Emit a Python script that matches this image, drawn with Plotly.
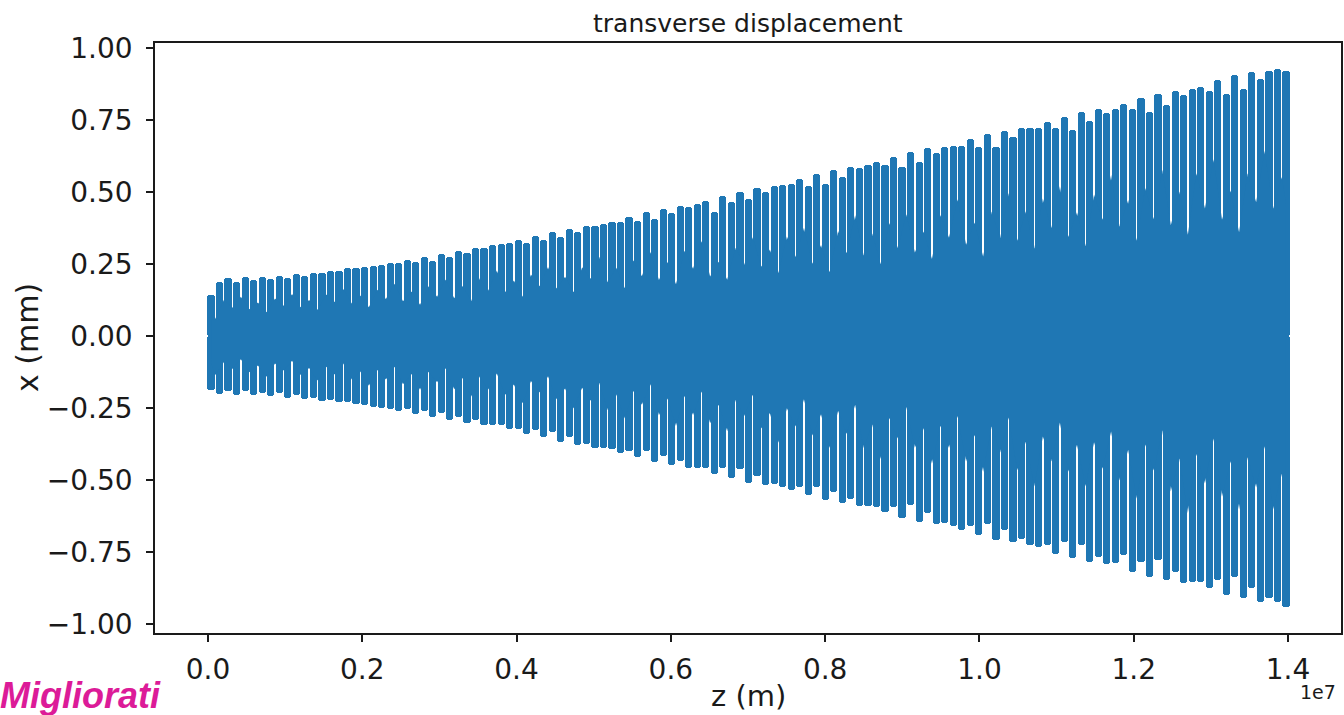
import numpy as np
import plotly.graph_objects as go

# ---- data ----
# upper spike tips x (mm), left to right
UPPER_TIPS = [
    0.142, 0.189, 0.200, 0.189, 0.204, 0.194, 0.206, 0.197, 0.209, 0.203,
    0.215, 0.208, 0.220, 0.218, 0.227, 0.227, 0.235, 0.235, 0.238, 0.244,
    0.247, 0.255, 0.252, 0.264, 0.258, 0.275, 0.262, 0.285, 0.273, 0.296,
    0.289, 0.304, 0.304, 0.316, 0.318, 0.322, 0.333, 0.324, 0.347, 0.333,
    0.362, 0.343, 0.372, 0.362, 0.382, 0.382, 0.389, 0.397, 0.395, 0.414,
    0.399, 0.429, 0.405, 0.441, 0.428, 0.451, 0.449, 0.458, 0.470, 0.430,
    0.487, 0.465, 0.501, 0.476, 0.513, 0.501, 0.522, 0.523, 0.528, 0.544,
    0.522, 0.5625, 0.527, 0.576, 0.553, 0.586, 0.582, 0.594, 0.603, 0.594,
    0.623, 0.587, 0.638, 0.605, 0.652, 0.637, 0.657,
    0.660, 0.660, 0.683, 0.657, 0.700, 0.655, 0.713, 0.690, 0.723, 0.722,
    0.724, 0.744, 0.722, 0.762, 0.717, 0.779, 0.745, 0.787, 0.776, 0.790,
    0.806, 0.787, 0.825, 0.779, 0.842, 0.802, 0.852, 0.837, 0.857, 0.863,
    0.852, 0.889, 0.842, 0.906, 0.857, 0.918, 0.894, 0.921, 0.926, 0.921,
]
# lower spike tips x (mm), left to right
LOWER_TIPS = [
    -0.1875, -0.201, -0.190, -0.205, -0.191, -0.205, -0.196, -0.208, -0.199, -0.214,
    -0.205, -0.220, -0.214, -0.225, -0.222, -0.230, -0.228, -0.236, -0.240, -0.245,
    -0.251, -0.253, -0.259, -0.253, -0.271, -0.259, -0.282, -0.267, -0.292, -0.280,
    -0.301, -0.292, -0.309, -0.309, -0.309, -0.324, -0.324, -0.340, -0.326, -0.352,
    -0.332, -0.367, -0.350, -0.378, -0.374, -0.387, -0.389, -0.391, -0.407, -0.398,
    -0.421, -0.398, -0.436, -0.417, -0.448, -0.434, -0.457, -0.459, -0.459, -0.480,
    -0.459, -0.494, -0.462, -0.509, -0.486, -0.517, -0.514, -0.523, -0.535, -0.523,
    -0.552, -0.523, -0.569, -0.540, -0.581, -0.567, -0.589, -0.590, -0.593, -0.610,
    -0.593, -0.633, -0.587, -0.645, -0.616, -0.653, -0.648,
    -0.660, -0.674, -0.660, -0.691, -0.654, -0.708, -0.674, -0.716, -0.706, -0.726,
    -0.734, -0.726, -0.755, -0.714, -0.772, -0.726, -0.784, -0.768, -0.793, -0.789,
    -0.760, -0.818, -0.784, -0.836, -0.778, -0.847, -0.818, -0.856, -0.853, -0.853,
    -0.876, -0.846, -0.899, -0.836, -0.911, -0.876, -0.922, -0.911, -0.922, -0.940,
]
Z_FIRST_TIP = 0.004e7      # m
Z_LAST_TIP = 1.3973e7      # m
Z_END = 1.3993e7           # m, final sample
END_UPPER = 0.47
END_LOWER = -0.75

X_TICKS = [0.0, 0.2e7, 0.4e7, 0.6e7, 0.8e7, 1.0e7, 1.2e7, 1.4e7]
X_TICK_TEXT = ["0.0", "0.2", "0.4", "0.6", "0.8", "1.0", "1.2", "1.4"]
Y_TICKS = [-1.0, -0.75, -0.5, -0.25, 0.0, 0.25, 0.5, 0.75, 1.0]
Y_TICK_TEXT = ["\u22121.00", "\u22120.75", "\u22120.50", "\u22120.25", "0.00",
               "0.25", "0.50", "0.75", "1.00"]

BLUE = "#1f77b4"

n = len(UPPER_TIPS)
z = np.linspace(Z_FIRST_TIP, Z_LAST_TIP, n)
dz = z[1] - z[0]
up = np.array(UPPER_TIPS)
lo = np.array(LOWER_TIPS)

fig = go.Figure()
bar_style = dict(color=BLUE, line=dict(width=0), cornerradius=3)
# columns of the oscillation
fig.add_trace(go.Bar(x=z, y=up, base=0, width=0.84 * dz, marker=bar_style))
fig.add_trace(go.Bar(x=z, y=lo, base=0, width=0.84 * dz, marker=bar_style))
fig.add_trace(go.Bar(x=[Z_END], y=[END_UPPER], base=0, width=0.35 * dz,
                     marker=dict(color=BLUE, line=dict(width=0))))
fig.add_trace(go.Bar(x=[Z_END], y=[END_LOWER], base=0, width=0.35 * dz,
                     marker=dict(color=BLUE, line=dict(width=0))))

# dense core of the oscillation: slits between columns end at varying depths
depth = np.array([0.42, 0.66, 0.52, 0.72, 0.48, 0.6])
gz = z[:-1] + dz / 2
k = np.arange(len(gz))
core_up = depth[k % 6] * np.minimum(up[:-1], up[1:])
core_lo = depth[(k + 3) % 6] * np.maximum(lo[:-1], lo[1:])
cx = np.concatenate([[z[0]], gz, [z[-1]]])
cu = np.concatenate([[0.5 * up[0]], core_up, [0.5 * up[-1]]])
cl = np.concatenate([[0.5 * lo[0]], core_lo, [0.5 * lo[-1]]])
fig.add_trace(go.Scatter(x=np.concatenate([cx, cx[::-1]]), y=np.concatenate([cu, cl[::-1]]),
                         fill="toself", fillcolor=BLUE, mode="lines",
                         line=dict(width=0, color=BLUE), hoverinfo="skip"))

axis_common = dict(
    showgrid=False, zeroline=False, showline=True, linecolor="#1a1a1a", linewidth=1.6,
    mirror=True, ticks="outside", ticklen=7, tickwidth=1.6, tickcolor="#1a1a1a",
    tickfont=dict(family="DejaVu Sans", size=28, color="#1a1a1a"),
)
fig.update_layout(
    width=1344, height=715,
    margin=dict(l=155, r=1, t=43, b=82),
    paper_bgcolor="white", plot_bgcolor="white",
    showlegend=False, barmode="overlay", bargap=0,
    xaxis=dict(range=[-0.0686e7, 1.4686e7], tickvals=X_TICKS, ticktext=X_TICK_TEXT,
               ticklabelstandoff=4, **axis_common),
    yaxis=dict(range=[-1.031, 1.0174], tickvals=Y_TICKS, ticktext=Y_TICK_TEXT,
               ticklabelstandoff=8, **axis_common),
    annotations=[
        dict(text="transverse displacement", xref="paper", yref="paper", x=0.5, y=1,
             xanchor="center", yanchor="bottom", yshift=3, showarrow=False,
             font=dict(family="DejaVu Sans", size=25, color="#1a1a1a")),
        dict(text="z (m)", xref="paper", yref="paper", x=0.5, y=0,
             xanchor="center", yanchor="middle", yshift=-63, showarrow=False,
             font=dict(family="DejaVu Sans", size=29, color="#1a1a1a")),
        dict(text="x (mm)", xref="paper", yref="paper", x=0, y=0.5, textangle=-90,
             xanchor="center", yanchor="middle", xshift=-128, showarrow=False,
             font=dict(family="DejaVu Sans", size=30, color="#1a1a1a")),
        dict(text="1e7", xref="paper", yref="paper", x=1, y=0,
             xanchor="right", yanchor="middle", xshift=-3, yshift=-59, showarrow=False,
             font=dict(family="DejaVu Sans", size=19, color="#1a1a1a")),
        dict(text="<b><i>Migliorati</i></b>", xref="paper", yref="paper", x=0, y=0,
             xanchor="left", yanchor="middle", xshift=-157, yshift=-62, showarrow=False,
             font=dict(family="Liberation Sans", size=36, color="#dc1b98")),
    ],
)

fig.write_html("out.html", post_script="document.body.style.margin='0';",
               config={"displayModeBar": False})
